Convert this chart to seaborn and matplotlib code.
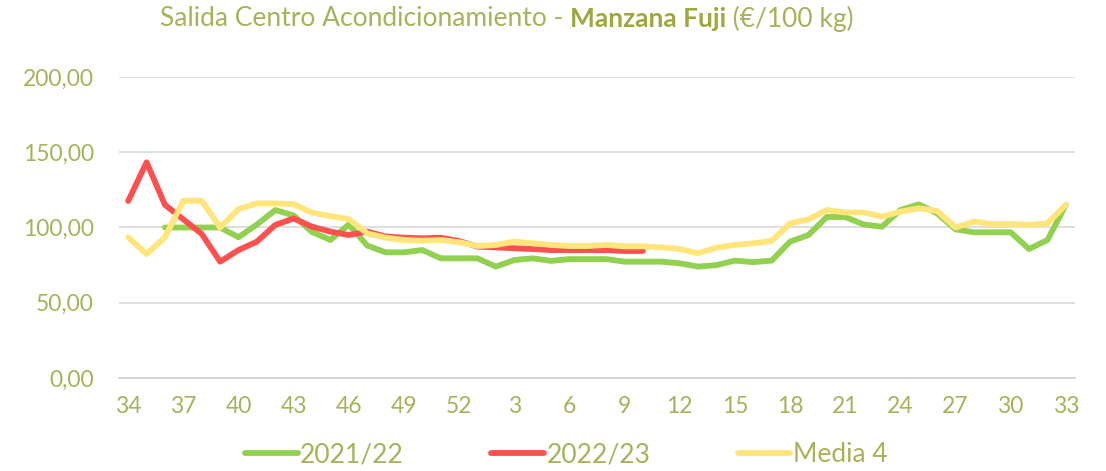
import matplotlib
matplotlib.use("Agg")
import matplotlib.pyplot as plt
import seaborn as sns
import pandas as pd
import numpy as np
from matplotlib.ticker import FuncFormatter, FixedLocator

weeks = list(range(34, 53)) + list(range(1, 34))

nan = np.nan
s2122 = [nan, nan, 100, 100, 100, 100, 93.5, 102, 111.6, 108, 97, 91.7, 102, 88, 83.5,
         83.5, 85, 79.5, 79.5, 79.5, 74, 78.4, 79.5, 77.8, 79, 79, 79, 77.3, 77.3,
         77.3, 76.2, 74, 75, 78, 77, 78, 90.6, 95, 107, 107, 102, 100.5, 111.6,
         115.4, 109.4, 98.8, 96.8, 96.8, 96.8, 85.7, 91.7, 115]
s2223 = [117.6, 143.3, 115, 105.4, 95.7, 77.3, 85, 90.6, 101.7, 106, 100.5, 97.3, 95,
         97.3, 94, 93.2, 92.8, 93.2, 91, 87.3, 86.8, 86.2, 85.7, 85, 85, 85, 85,
         84.4, 84.4] + [nan] * 23
media4 = [93.5, 82.4, 93.5, 117.8, 117.8, 100, 112.3, 116, 116, 115.5, 109.8, 107.6,
          105.6, 96.1, 93.2, 91.7, 91.2, 91.7, 90.2, 87.7, 88.4, 90.6, 89.5, 88.4,
          87.7, 87.7, 88.4, 87.5, 87.5, 86.8, 85.7, 82.9, 86.6, 88.4, 89.5, 91,
          102.8, 105.4, 111.6, 110, 110, 107.2, 110.5, 112.7, 111, 100, 103.9,
          102.3, 102.3, 101.7, 102.8, 115]

series_names = ["2021/22", "2022/23", "Media 4"]
colors = ["#92D050", "#FF5050", "#FFE57A"]
text_color = "#A9B25A"

rows = []
for name, vals in zip(series_names, [s2122, s2223, media4]):
    for i, v in enumerate(vals):
        rows.append({"pos": i, "serie": name, "valor": v})
df = pd.DataFrame(rows).dropna()

sns.set_style("white")
plt.rcParams["font.family"] = ["Lato", "DejaVu Sans"]

fig = plt.figure(figsize=(11.06, 4.71), dpi=100)
ax = fig.add_axes([0.1076, 0.1975, 0.8644, 0.639])

sns.lineplot(data=df, x="pos", y="valor", hue="serie", hue_order=series_names,
             palette=colors, linewidth=4.2, ax=ax, legend=False,
             solid_capstyle="round", solid_joinstyle="round")

ax.set_xlim(-0.5, len(weeks) - 0.5)
ax.set_ylim(0, 200)
ax.set_yticks([0, 50, 100, 150, 200])
ax.yaxis.set_major_formatter(FuncFormatter(lambda v, p: f"{v:.2f}".replace(".", ",")))
ax.set_xticks(range(0, len(weeks), 3))
ax.set_xticklabels([str(w) for w in weeks[::3]])
ax.xaxis.set_minor_locator(FixedLocator(np.arange(-0.5, len(weeks), 1)))
ax.tick_params(axis="x", which="major", length=0, pad=13, labelsize=16.5, labelcolor=text_color)
ax.tick_params(axis="x", which="minor", length=5, color="#D0D0D0", width=1)
ax.tick_params(axis="y", length=0, pad=18, labelsize=16.5, labelcolor=text_color)
ax.grid(axis="y", color="#D9D9D9", linewidth=1.2)
ax.set_xlabel("")
ax.set_ylabel("")
for side in ["top", "right", "left"]:
    ax.spines[side].set_visible(False)
ax.spines["bottom"].set_color("#D0D0D0")
ax.spines["bottom"].set_linewidth(1.2)
ax.set_axisbelow(True)

# title in three pieces
fig.canvas.draw()
renderer = fig.canvas.get_renderer()
parts = [("Salida Centro Acondicionamiento - ", "normal", text_color),
         ("Manzana Fuji", "bold", "#9FA83E"),
         (" (€/100 kg)", "normal", text_color)]
x = 160 / 1106
for txt, weight, col in parts:
    t = fig.text(x, 1 - 19 / 471, txt, fontsize=19, fontweight=weight, color=col,
                 va="center", ha="left")
    bb = t.get_window_extent(renderer=renderer)
    x = (bb.x1) / fig.bbox.width

handles = [plt.Line2D([], [], color=c, linewidth=4.2, solid_capstyle="round") for c in colors]
fig.legend(handles, series_names, loc="center", bbox_to_anchor=(0.512, 1 - 455 / 471),
           ncol=3, frameon=False, fontsize=19, labelcolor=text_color,
           handlelength=2.0, handletextpad=0.1, columnspacing=3.3)

fig.savefig("out.png", dpi=100)
